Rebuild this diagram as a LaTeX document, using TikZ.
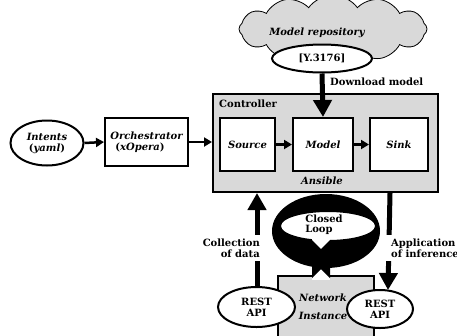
\documentclass[tikz,border=0pt]{standalone}
\usepackage{fontspec}
\setmainfont{DejaVu Serif}
\usetikzlibrary{shapes.symbols,shapes.geometric,arrows.meta}
\definecolor{lg}{HTML}{D9D9D9}
\begin{document}
\begin{tikzpicture}[x=1pt,y=-1pt,
  font=\bfseries\fontsize{10}{11}\selectfont,
  box/.style={draw, line width=2pt, fill=white, inner sep=0pt, align=center},
  oval/.style={ellipse, draw, line width=2pt, fill=white, inner sep=0pt, align=center},
  arr/.style={line width=2.5pt, -{Triangle[width=9pt,length=8pt]}},
  bigarr/.style={line width=5pt, -{Triangle[width=18pt,length=17pt]}},
  lbl/.style={fill=white, inner sep=2pt}]
\useasboundingbox (0,0) rectangle (457,335);
\clip (0,0) rectangle (457,335);

% cloud and repository
\node[cloud, cloud puffs=12, cloud puff arc=110, aspect=3.4, draw, line width=0.8pt,
      fill=lg, minimum width=188pt, minimum height=68pt] (cloud) at (333,29) {};
\node (repo) at (317,33) {\itshape Model repository};
\node[oval, minimum width=100pt, minimum height=28pt] (y) at (322,58.5) {[Y.3176]};

% controller
\node[draw, line width=2pt, fill=lg, minimum width=225pt, minimum height=98pt,
      anchor=north west] (ctrl) at (212,93) {};
\node[anchor=west, inner sep=0pt] (ctl) at (219,104) {Controller};
\node[box, minimum width=55pt, minimum height=53pt] (src) at (247.5,144.5) {\itshape Source};
\node[box, minimum width=60pt, minimum height=53pt] (mod) at (323,144.5) {\itshape Model};
\node[box, minimum width=58pt, minimum height=53pt] (snk) at (399,144.5) {\itshape Sink};
\node (ans) at (322,181) {\itshape Ansible};
\draw[arr] (src) -- (mod);
\draw[arr] (mod) -- (snk);

\draw[bigarr] (y.south) -- (mod.north);
\node[anchor=west, inner sep=0pt] (dl) at (330,82) {Download model};

% left chain
\node[oval, minimum width=73pt, minimum height=45pt] (int) at (47,143)
  {\itshape Intents\\(\textit{yaml})};
\node[box, minimum width=83pt, minimum height=48pt, align=left] (orc) at (146.5,142)
  {\itshape Orchestrator\\\hspace*{5pt}(\textit{xOpera})};
\draw[arr] (int.east) -- (orc.west);
\draw[arr] (orc.east) -- (orc.east -| ctrl.west);

% network instance
\node[draw, line width=2pt, fill=lg, minimum width=96pt, minimum height=75pt,
      anchor=north west] (net) at (277,275) {};
\node[align=center, font=\bfseries\itshape\fontsize{10}{18}\selectfont] (nettxt) at (323,307) {Network\\Instance};
\node[oval, minimum width=77pt, minimum height=40pt] (rl) at (256.5,307) {REST\\API};
\node[oval, minimum width=66pt, minimum height=38pt] (rr) at (380,309) {REST\\API};

% collection arrow
\coordinate (c1) at (257,288);
\draw[bigarr] (c1) -- (c1 |- ctrl.south);
\node[lbl, align=right, anchor=east, inner ysep=4pt] (coll) at (262,248) {Collection\\of data};

% application arrow
\path (ctrl.south east) ++(-49,0) coordinate (a1);
\coordinate (a2) at (388,290);
\draw[bigarr] (a1) -- (a2);
\node[lbl, align=left, anchor=west, inner xsep=8pt, inner ysep=4pt] (app) at (383,248) {Application\\of inference};

% closed loop
\fill[even odd rule] (326,231) ellipse [x radius=54pt, y radius=37pt]
                     (328,226) ellipse [x radius=47pt, y radius=14pt];
\fill[white] (312,236) rectangle (330,280);
\fill (312,240) -- (312,278) -- (331,259) -- cycle;
\fill (330,240) -- (330,278) -- (311,259) -- cycle;
\node[align=left, inner sep=0pt, font=\bfseries\fontsize{10}{10}\selectfont] (cl) at (324,225) {Closed\\Loop};
\end{tikzpicture}
\end{document}
